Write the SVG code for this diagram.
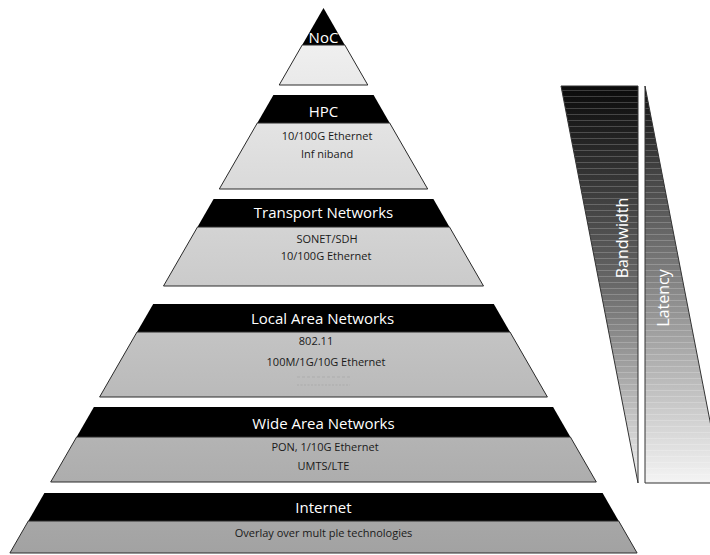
<svg xmlns="http://www.w3.org/2000/svg" width="710" height="555" viewBox="0 0 710 555">
<style>
.band{fill:#000}
.body{fill:url(#pyr);stroke:#2a2a2a;stroke-width:1}
.title{font-family:"Open Sans",sans-serif;font-size:15px;fill:#fff;text-anchor:middle}
.txt{font-family:"Open Sans",sans-serif;font-size:11px;fill:#1a1a1a;text-anchor:middle}
.side{font-family:"Open Sans",sans-serif;font-size:16px;fill:#fff;text-anchor:middle}
</style>
<defs>
<linearGradient id="pyr" gradientUnits="userSpaceOnUse" x1="0" y1="8" x2="0" y2="553">
<stop offset="0" stop-color="#f5f5f5"/>
<stop offset="1" stop-color="#a2a2a2"/>
</linearGradient>
<linearGradient id="bw" x1="0" y1="0" x2="0" y2="1">
<stop offset="0" stop-color="#0a0a0a"/>
<stop offset="0.5" stop-color="#686868"/>
<stop offset="1" stop-color="#f2f2f2"/>
</linearGradient>
<linearGradient id="lat" x1="0" y1="0" x2="0" y2="1">
<stop offset="0" stop-color="#111"/>
<stop offset="0.5" stop-color="#858585"/>
<stop offset="1" stop-color="#f4f4f4"/>
</linearGradient>
<pattern id="stripes" patternUnits="userSpaceOnUse" width="10" height="6">
<rect x="0" y="0" width="10" height="1" fill="#fff" opacity="0.2"/>
</pattern>
</defs>
<rect width="710" height="555" fill="#fff"/>

<g id="noc">
<polygon class="band" points="323.5,8 302.2,45 344.8,45"/>
<polygon class="body" points="302.2,45 344.8,45 367.8,85 279.2,85"/>
<text class="title" x="323.5" y="43">NoC</text>
</g>

<g id="hpc">
<polygon class="band" points="273.4,95 373.6,95 389.7,123 257.3,123"/>
<polygon class="body" points="257.3,123 389.7,123 427.7,189 219.3,189"/>
<text class="title" x="323.5" y="117">HPC</text>
<text class="txt" x="327" y="140">10/100G Ethernet</text>
<text class="txt" x="327" y="158">Inf niband</text>
</g>

<g id="transport">
<polygon class="band" points="213.6,199 433.4,199 449.5,227 197.5,227"/>
<polygon class="body" points="197.5,227 449.5,227 483.5,286 163.5,286"/>
<text class="title" x="323.5" y="218">Transport Networks</text>
<text class="txt" x="327" y="243">SONET/SDH</text>
<text class="txt" x="326" y="260">10/100G Ethernet</text>
</g>

<g id="lan">
<polygon class="band" points="153.2,304 493.8,304 510,332 137,332"/>
<polygon class="body" points="137,332 510,332 547.4,397 99.6,397"/>
<text class="title" x="322.5" y="324">Local Area Networks</text>
<text class="txt" x="316" y="345">802.11</text>
<text class="txt" x="326" y="366">100M/1G/10G Ethernet</text>
<line x1="297" y1="377" x2="350" y2="377" stroke="#999" stroke-width="0.7" stroke-dasharray="3,2" opacity="0.6"/>
<line x1="297" y1="385" x2="350" y2="385" stroke="#999" stroke-width="0.7" stroke-dasharray="2,1.5" opacity="0.6"/>
</g>

<g id="wan">
<polygon class="band" points="93.9,407 553.1,407 570.4,437 76.6,437"/>
<polygon class="body" points="76.6,437 570.4,437 596.3,482 50.7,482"/>
<text class="title" x="323.5" y="429">Wide Area Networks</text>
<text class="txt" x="325" y="451">PON, 1/10G Ethernet</text>
<text class="txt" x="323.5" y="470">UMTS/LTE</text>
</g>

<g id="internet">
<polygon class="band" points="44.4,493 602.6,493 618.7,521 28.3,521"/>
<polygon class="body" points="28.3,521 618.7,521 637.1,553 9.9,553"/>
<text class="title" x="323.5" y="513">Internet</text>
<text class="txt" x="323.5" y="537">Overlay over mult ple technologies</text>
</g>

<g id="bandwidth">
<polygon points="561,86 638,86 638,483" fill="url(#bw)"/>
<polygon points="561,86 638,86 638,483" fill="url(#stripes)"/>
<polygon points="561,86 638,86 638,483" fill="none" stroke="#333" stroke-width="1"/>
<text class="side" transform="translate(628,238) rotate(-90)">Bandwidth</text>
</g>

<g id="latency">
<polygon points="645,86 645,483 722,483" fill="url(#lat)"/>
<polygon points="645,86 645,483 722,483" fill="url(#stripes)"/>
<polygon points="645,86 645,483 722,483" fill="none" stroke="#333" stroke-width="1"/>
<text class="side" transform="translate(669,298) rotate(-90)">Latency</text>
</g>
</svg>
